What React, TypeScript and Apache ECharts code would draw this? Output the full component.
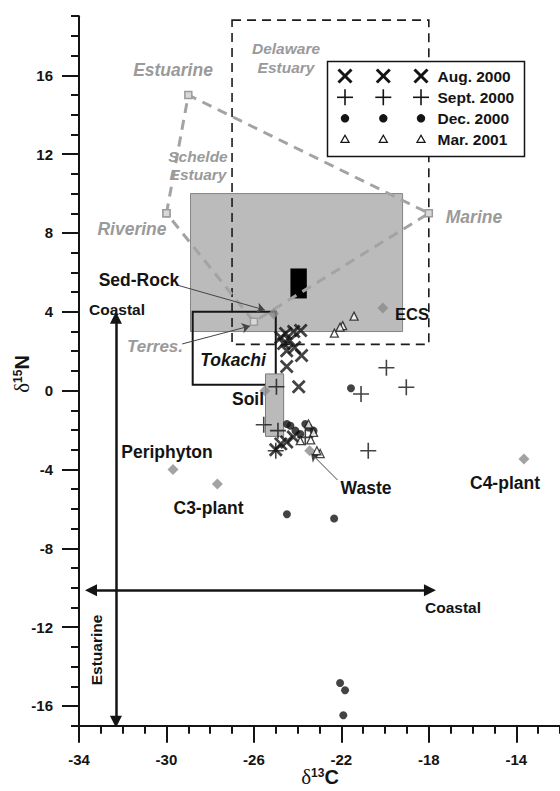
import React, { useEffect, useRef } from 'react';
import * as echarts from 'echarts';

// ---------- data ----------
const xTickLabels = [-34, -30, -26, -22, -18, -14];
const yTickLabels = [-16, -12, -8, -4, 0, 4, 8, 12, 16];
const xMin = -34, xMax = -12, yMin = -17, yMax = 19;

const aug2000 = [
  [-24.77, 2.7], [-24.55, 2.9], [-24.18, 3.0], [-23.86, 3.05], [-24.64, 2.39],
  [-24.36, 2.54], [-24.14, 2.19], [-24.5, 2.03], [-23.82, 1.78], [-24.5, 1.22],
  [-23.95, 0.2], [-25.0, -3.0], [-24.77, -2.7], [-24.5, -2.6], [-24.2, -2.35],
];
const sept2000 = [
  [-24.97, 0.2], [-19.94, 1.16], [-21.1, -0.17], [-19.03, 0.17], [-20.77, -3.05],
  [-25.55, -1.73], [-24.9, -2.03], [-25.0, -3.05], [-23.65, -2.37],
];
const dec2000 = [
  [-21.56, 0.12], [-24.49, -1.69], [-24.33, -1.78], [-24.1, -2.03], [-23.65, -1.69],
  [-23.5, -1.87], [-23.88, -2.2], [-23.27, -2.03], [-24.49, -6.27], [-22.33, -6.49],
  [-22.06, -14.83], [-21.83, -15.2], [-21.91, -16.47],
];
const mar2001 = [
  [-21.42, 3.78], [-21.94, 3.3], [-22.06, 3.22], [-22.32, 2.92], [-23.5, -1.69],
  [-23.27, -2.12], [-22.97, -3.19], [-23.12, -3.05], [-23.88, -2.54], [-23.4, -2.5],
];
const sourceNames = ['Sed-Rock', 'ECS', 'Soil', 'Waste', 'Periphyton', 'C3-plant', 'C4-plant'];
const sourceValues = [
  [-25.1, 3.9], [-20.1, 4.2], [-25.5, 0.0], [-23.45, -3.05], [-29.7, -4.0], [-27.67, -4.74], [-13.65, -3.47],
];
const scheldeNames = ['Riverine', 'Estuarine', 'Marine', 'Terres.', 'Riverine'];
const scheldeValues = [[-30, 9], [-29, 15], [-18, 9], [-26, 3.5], [-30, 9]];

// boxes: [x1, y1, x2, y2]
const grayBox = [-28.9, 3, -19.2, 10];
const blackBox = [-24.33, 4.68, -23.58, 6.2];
const delawareBox = [-27, 2.35, -18, 18.8];
const tokachiBox = [-28.8, 0.3, -25.0, 4.0];
const soilBox = [-25.47, -2.32, -24.64, 0.85];

const bigArrows = [
  [[-32.31, 3.7], [-32.31, -16.8]],
  [[-33.45, -10.13], [-17.95, -10.13]],
];
const pointerArrows = [
  [[-29.52, 5.36], [-25.5, 4.09]],
  [[-29.28, 2.37], [-26.18, 3.28]],
  [[-22.18, -4.53], [-23.39, -3.18]],
];

const legendNames = ['Aug. 2000', 'Sept. 2000', 'Dec. 2000', 'Mar. 2001'];

// ---------- styling ----------
const FONT = '"Liberation Sans", Arial, sans-serif';
const BLACK = '#141414';
const GRAYTXT = '#9a9a9a';

const ints = (a: number, b: number) => {
  const r: number[] = [];
  for (let v = a; v <= b; v++) r.push(v);
  return r;
};

const boxSeries = (box: number[], style: any, z: number) => ({
  type: 'custom',
  coordinateSystem: 'cartesian2d',
  z,
  silent: true,
  clip: false,
  data: [box],
  renderItem: (_p: any, api: any) => {
    const a = api.coord([api.value(0), api.value(3)]);
    const b = api.coord([api.value(2), api.value(1)]);
    return {
      type: 'rect',
      shape: { x: a[0], y: a[1], width: b[0] - a[0], height: b[1] - a[1] },
      style,
    };
  },
});

const txt = (text: string, x: number, y: number, opt: any = {}) => ({
  type: 'text',
  x,
  y,
  rotation: opt.rotation || 0,
  z: 100,
  style: {
    text,
    fill: opt.fill || BLACK,
    font: `${opt.italic ? 'italic ' : ''}bold ${opt.size || 17}px ${FONT}`,
    align: 'center',
    verticalAlign: 'middle',
  },
});

const legendGraphics = () => {
  const els: any[] = [];
  els.push({
    type: 'rect', z: 100,
    shape: { x: 327.5, y: 61.5, width: 197, height: 95 },
    style: { fill: '#fff', stroke: BLACK, lineWidth: 1.5 },
  });
  const rows = [76, 97.3, 118.3, 139.3];
  const cols = [345, 383.3, 421];
  rows.forEach((ry, i) => {
    cols.forEach((cx) => {
      if (i === 0) {
        const d = 6.5;
        els.push({ type: 'line', z: 101, shape: { x1: cx - d, y1: ry - d, x2: cx + d, y2: ry + d }, style: { stroke: BLACK, lineWidth: 3 } });
        els.push({ type: 'line', z: 101, shape: { x1: cx - d, y1: ry + d, x2: cx + d, y2: ry - d }, style: { stroke: BLACK, lineWidth: 3 } });
      } else if (i === 1) {
        const d = 8;
        els.push({ type: 'line', z: 101, shape: { x1: cx - d, y1: ry, x2: cx + d, y2: ry }, style: { stroke: BLACK, lineWidth: 1.6 } });
        els.push({ type: 'line', z: 101, shape: { x1: cx, y1: ry - d, x2: cx, y2: ry + d }, style: { stroke: BLACK, lineWidth: 1.6 } });
      } else if (i === 2) {
        els.push({ type: 'circle', z: 101, shape: { cx, cy: ry, r: 4.2 }, style: { fill: BLACK } });
      } else {
        els.push({ type: 'polygon', z: 101, shape: { points: [[cx, ry - 4], [cx + 4, ry + 3], [cx - 4, ry + 3]] }, style: { fill: '#fff', stroke: BLACK, lineWidth: 1.3 } });
      }
    });
    els.push({
      type: 'text', z: 101, x: 437.5, y: ry,
      style: { text: legendNames[i], fill: BLACK, font: `bold 15.5px ${FONT}`, align: 'left', verticalAlign: 'middle' },
    });
  });
  return els;
};

const axisNameRich = {
  d: { font: `21px "Liberation Serif", serif`, fill: BLACK, lineHeight: 20, verticalAlign: 'bottom' },
  s: { font: `bold 12px ${FONT}`, fill: BLACK, lineHeight: 20, verticalAlign: 'top' },
  c: { font: `bold 20px ${FONT}`, fill: BLACK, lineHeight: 20, verticalAlign: 'bottom' },
};

const buildOption = () => {
  const axisCommon = {
    type: 'value',
    splitLine: { show: false },
    minorTick: { show: false },
  };
  const labelStyle = { fontSize: 15, fontWeight: 'bold', color: BLACK, fontFamily: FONT, margin: 26 };
  const tickLine = { color: BLACK, width: 2 };

  const src = sourceNames.map((n, i) => ({ name: n, value: sourceValues[i] }));

  const graphic: any[] = [
    txt('Estuarine', 173, 70, { fill: GRAYTXT, italic: true, size: 17.5 }),
    txt('Riverine', 132, 229, { fill: GRAYTXT, italic: true, size: 17.5 }),
    txt('Schelde', 198, 156, { fill: GRAYTXT, italic: true, size: 15.5 }),
    txt('Estuary', 198, 174, { fill: GRAYTXT, italic: true, size: 15.5 }),
    txt('Delaware', 286, 48, { fill: GRAYTXT, italic: true, size: 15.5 }),
    txt('Estuary', 286, 67, { fill: GRAYTXT, italic: true, size: 15.5 }),
    txt('Marine', 474, 217, { fill: GRAYTXT, italic: true, size: 17.5 }),
    txt('Terres.', 155, 346, { fill: GRAYTXT, italic: true, size: 17 }),
    txt('Sed-Rock', 139, 280, { size: 17.5 }),
    txt('Coastal', 117, 309, { size: 15.5 }),
    txt('Tokachi', 233, 360, { italic: true, size: 17.5 }),
    txt('Soil', 248, 399, { size: 17.5 }),
    txt('ECS', 412, 314, { size: 16.5 }),
    txt('Waste', 366, 488, { size: 17.5 }),
    txt('Periphyton', 167, 452, { size: 17.5 }),
    txt('C3-plant', 208.5, 508, { size: 17.5 }),
    txt('C4-plant', 505, 483, { size: 17.5 }),
    txt('Coastal', 453, 607, { size: 15.5 }),
    txt('Estuarine', 96.5, 650, { size: 15.5, rotation: Math.PI / 2 }),
    {
      type: 'text', x: 320, y: 777, z: 100,
      style: { text: '{d|δ}{s|13}{c|C}', align: 'center', verticalAlign: 'middle', rich: axisNameRich },
    },
    {
      type: 'text', x: 22, y: 374, z: 100, rotation: Math.PI / 2,
      style: { text: '{d|δ}{s|15}{c|N}', align: 'center', verticalAlign: 'middle', rich: axisNameRich },
    },
    ...legendGraphics(),
  ];

  return {
    animation: false,
    backgroundColor: '#fff',
    grid: { left: 79, top: 16.2, width: 485.9, height: 709.5 },
    xAxis: [
      {
        ...axisCommon, min: xMin, max: xMax, position: 'bottom',
        axisLine: { show: true, onZero: false, lineStyle: { color: BLACK, width: 2 } },
        axisTick: { show: true, customValues: ints(xMin, xMax), length: 8, lineStyle: tickLine },
        axisLabel: { ...labelStyle, customValues: xTickLabels },
      },
      {
        ...axisCommon, min: xMin, max: xMax, position: 'bottom',
        axisLine: { show: false, onZero: false },
        axisTick: { show: true, customValues: xTickLabels, length: 17, lineStyle: tickLine },
        axisLabel: { show: false },
      },
    ],
    yAxis: [
      {
        ...axisCommon, min: yMin, max: yMax, position: 'left',
        axisLine: { show: true, onZero: false, lineStyle: { color: BLACK, width: 2 } },
        axisTick: { show: true, customValues: ints(yMin, yMax), length: 8, lineStyle: tickLine },
        axisLabel: { ...labelStyle, customValues: yTickLabels },
      },
      {
        ...axisCommon, min: yMin, max: yMax, position: 'left',
        axisLine: { show: false, onZero: false },
        axisTick: { show: true, customValues: yTickLabels, length: 17, lineStyle: tickLine },
        axisLabel: { show: false },
      },
    ],
    graphic,
    series: [
      boxSeries(grayBox, { fill: '#bbbbbb', stroke: '#858585', lineWidth: 1 }, 1),
      boxSeries(delawareBox, { fill: 'none', stroke: '#1c1c1c', lineWidth: 1.6, lineDash: [9, 6] }, 2),
      {
        type: 'line', z: 3, silent: true,
        data: scheldeNames.map((n, i) => ({ name: n, value: scheldeValues[i] })),
        symbol: 'rect', symbolSize: 7,
        itemStyle: { color: '#d8d8d8', borderColor: '#9c9c9c', borderWidth: 1.5 },
        lineStyle: { color: '#a3a3a3', width: 3, type: [10, 7] },
      },
      boxSeries(blackBox, { fill: '#000' }, 3),
      boxSeries(tokachiBox, { fill: 'none', stroke: BLACK, lineWidth: 2 }, 4),
      boxSeries(soilBox, { fill: '#bababa', stroke: '#7a7a7a', lineWidth: 1 }, 5),
      {
        type: 'lines', coordinateSystem: 'cartesian2d', z: 6, silent: true,
        data: bigArrows.map((c) => ({ coords: c })),
        symbol: ['triangle', 'triangle'], symbolSize: 12,
        lineStyle: { color: BLACK, width: 2.5, opacity: 1 },
      },
      {
        type: 'lines', coordinateSystem: 'cartesian2d', z: 6, silent: true,
        data: pointerArrows.map((c) => ({ coords: c })),
        symbol: ['none', 'arrow'], symbolSize: 8,
        lineStyle: { color: '#444', width: 1, opacity: 1 },
      },
      {
        type: 'scatter', name: 'sources', z: 7, silent: true,
        data: src, symbol: 'diamond', symbolSize: 11,
        itemStyle: { color: '#8c8c8c' },
      },
      {
        type: 'scatter', name: 'Aug. 2000', z: 8, silent: true,
        data: aug2000, symbol: 'path://M0,0L10,10M10,0L0,10', symbolSize: 12,
        itemStyle: { color: 'none', borderColor: BLACK, borderWidth: 2.8 },
      },
      {
        type: 'scatter', name: 'Sept. 2000', z: 9, silent: true,
        data: sept2000, symbol: 'path://M5,0L5,10M0,5L10,5', symbolSize: 16,
        itemStyle: { color: 'none', borderColor: BLACK, borderWidth: 1.6 },
      },
      {
        type: 'scatter', name: 'Dec. 2000', z: 10, silent: true,
        data: dec2000, symbol: 'circle', symbolSize: 8,
        itemStyle: { color: BLACK },
      },
      {
        type: 'scatter', name: 'Mar. 2001', z: 11, silent: true,
        data: mar2001, symbol: 'triangle', symbolSize: 8,
        itemStyle: { color: '#fff', borderColor: BLACK, borderWidth: 1.3 },
      },
    ],
  };
};

export default function App() {
  const ref = useRef<HTMLDivElement>(null);
  useEffect(() => {
    const chart = echarts.init(ref.current as HTMLDivElement, null, { renderer: 'svg' });
    chart.setOption(buildOption() as any);
    return () => chart.dispose();
  }, []);
  return (
    <div
      ref={ref}
      style={{ position: 'absolute', left: 0, top: 0, width: 560, height: 791, background: '#fff' }}
    />
  );
}
